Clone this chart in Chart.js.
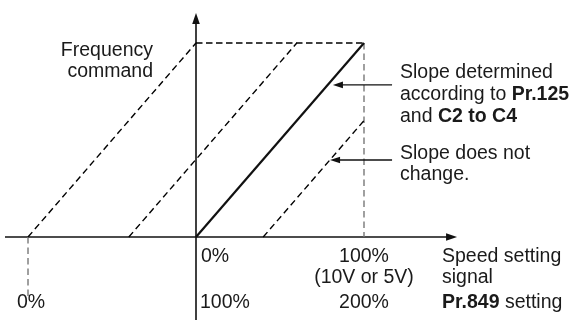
<!DOCTYPE html>
<html><head><meta charset="utf-8">
<script src="https://cdn.jsdelivr.net/npm/chart.js@4/dist/chart.umd.min.js"></script>
<style>html,body{margin:0;padding:0;background:#fff}#wrap{width:579px;height:320px}</style>
</head><body><div id="wrap"><canvas id="c" width="579" height="320"></canvas></div>
<script>
// Speed setting signal (%) vs frequency command (%)
const signalPct = [0, 100];
const freqPct = [0, 100];
// Pr.849 bias shifts of the characteristic (in signal %)
const biasShifts = [-100, -40, 40];
// Tick labels
const signalTickLabels = ['0%', '100%'];
const signalTickValues = [0, 100];
const pr849TickLabels = ['0%', '100%', '200%'];
const pr849TickValues = [-100, 0, 100];

const FONT = '"Liberation Sans", Arial, sans-serif';
const FS = 19.5;

function seg(x0, y0, x1, y1) { return [{x:x0,y:y0},{x:x1,y:y1}]; }

const datasets = [];
// solid characteristic
datasets.push({data: seg(signalPct[0], freqPct[0], signalPct[1], freqPct[1]), borderColor:'#111', borderWidth:2.2});
// shifted (dashed) characteristics
biasShifts.forEach(s => {
  const x0 = signalPct[0] + s, y0 = freqPct[0];
  let x1 = signalPct[1] + s, y1 = freqPct[1];
  if (x1 > signalPct[1]) { y1 = freqPct[1] - (x1 - signalPct[1]); x1 = signalPct[1]; }
  datasets.push({data: seg(x0, y0, x1, y1), borderColor:'#000', borderWidth:1.4, borderDash:[6.5,4]});
});
// top dashed limit
datasets.push({data: seg(0, freqPct[1], signalPct[1], freqPct[1]), borderColor:'#000', borderWidth:1.4, borderDash:[6.5,3.5]});
// vertical dashed at 100% signal
datasets.push({data: seg(signalPct[1], freqPct[1], signalPct[1], 0), borderColor:'#777', borderWidth:1.4, borderDash:[6.5,4]});
// vertical dashed at Pr.849 0%
datasets.push({data: seg(pr849TickValues[0], 0, pr849TickValues[0], -31), borderColor:'#777', borderWidth:1.4, borderDash:[6.5,4]});
// axes
datasets.push({data: seg(-113.7, 0, 150, 0), borderColor:'#111', borderWidth:1.6});
datasets.push({data: seg(0, -45, 0, 110), borderColor:'#111', borderWidth:1.6});

datasets.forEach(d => { d.showLine = true; d.pointRadius = 0; d.fill = false; d.tension = 0; });

function arrowHead(ctx, tx, ty, dx, dy, len, half) {
  const px = -dy, py = dx;
  ctx.beginPath();
  ctx.moveTo(tx, ty);
  ctx.lineTo(tx - dx*len + px*half, ty - dy*len + py*half);
  ctx.lineTo(tx - dx*len - px*half, ty - dy*len - py*half);
  ctx.closePath();
  ctx.fill();
}

function richText(ctx, parts, x, y, align) {
  let total = 0;
  parts.forEach(p => { ctx.font = (p[1] ? 'bold ' : '') + FS + 'px ' + FONT; total += ctx.measureText(p[0]).width; });
  let cx = align === 'center' ? x - total/2 : (align === 'right' ? x - total : x);
  ctx.textAlign = 'left';
  parts.forEach(p => { ctx.font = (p[1] ? 'bold ' : '') + FS + 'px ' + FONT; ctx.fillText(p[0], cx, y); cx += ctx.measureText(p[0]).width; });
}

const overlay = {
  id: 'overlay',
  afterDatasetsDraw(chart) {
    const ctx = chart.ctx, xs = chart.scales.x, ys = chart.scales.y;
    const X = v => xs.getPixelForValue(v), Y = v => ys.getPixelForValue(v);
    ctx.save();
    ctx.fillStyle = '#111';
    ctx.strokeStyle = '#111';
    // axis arrowheads
    arrowHead(ctx, X(0), Y(115.5), 0, -1, 11, 3.8);
    arrowHead(ctx, X(155.4), Y(0), 1, 0, 11, 3.8);
    // annotation arrows
    ctx.lineWidth = 1.3;
    [[78.4, 81.5], [39.7, 79.8]].forEach(([yv, xt]) => {
      ctx.beginPath(); ctx.moveTo(X(116.7), Y(yv)); ctx.lineTo(X(xt) + 8, Y(yv)); ctx.stroke();
      arrowHead(ctx, X(xt), Y(yv), -1, 0, 10, 3.3);
    });
    // texts
    ctx.fillStyle = '#1a1a1a';
    ctx.textBaseline = 'alphabetic';
    richText(ctx, [['Frequency']], 153, 56, 'right');
    richText(ctx, [['command']], 153, 77, 'right');
    richText(ctx, [['Slope determined']], 400, 78, 'left');
    richText(ctx, [['according to '], ['Pr.125', true]], 400, 100, 'left');
    richText(ctx, [['and '], ['C2 to C4', true]], 400, 122, 'left');
    richText(ctx, [['Slope does not']], 400, 159, 'left');
    richText(ctx, [['change.']], 400, 180, 'left');
    // signal ticks
    richText(ctx, [[signalTickLabels[0]]], X(signalTickValues[0]) + 5, 262, 'left');
    richText(ctx, [[signalTickLabels[1]]], X(signalTickValues[1]), 262, 'center');
    richText(ctx, [['(10V or 5V)']], X(signalTickValues[1]), 283, 'center');
    richText(ctx, [['Speed setting']], 442, 262, 'left');
    richText(ctx, [['signal']], 442, 283, 'left');
    // Pr.849 ticks
    richText(ctx, [[pr849TickLabels[0]]], X(pr849TickValues[0]) + 3, 308, 'center');
    richText(ctx, [[pr849TickLabels[1]]], X(pr849TickValues[1]) + 4, 308, 'left');
    richText(ctx, [[pr849TickLabels[2]]], X(pr849TickValues[2]), 308, 'center');
    richText(ctx, [['Pr.849', true], [' setting']], 442, 308, 'left');
    ctx.restore();
  }
};

new Chart(document.getElementById('c'), {
  type: 'scatter',
  data: { datasets },
  options: {
    responsive: false,
    devicePixelRatio: 1,
    animation: false,
    layout: { padding: 0 },
    plugins: { legend: { display: false }, tooltip: { enabled: false } },
    scales: {
      x: { type: 'linear', display: false, min: -116.67, max: 227.98 },
      y: { type: 'linear', display: false, min: -42.78, max: 122.16 }
    }
  },
  plugins: [overlay]
});
</script>
</body></html>
